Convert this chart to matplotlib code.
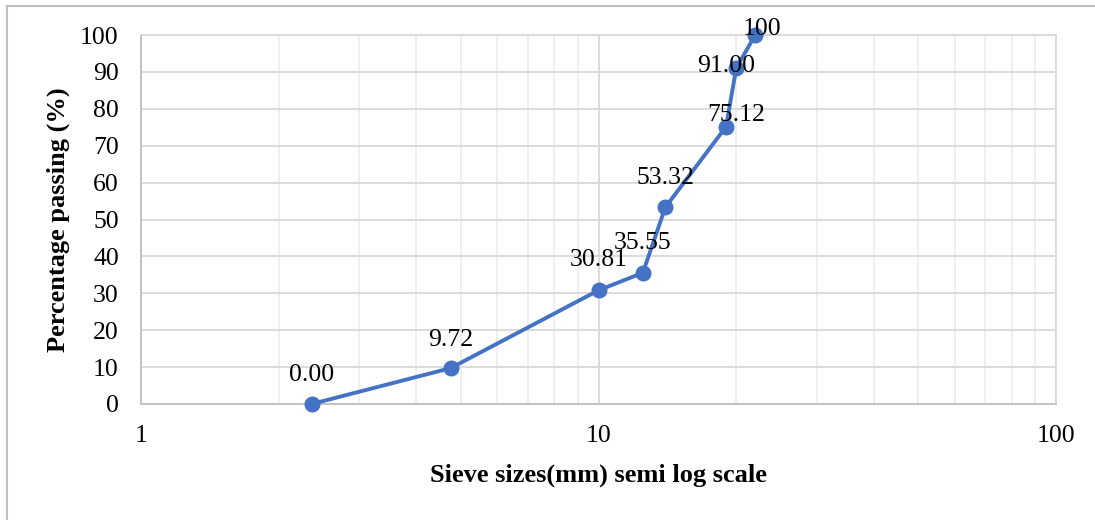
import matplotlib
matplotlib.use("Agg")
import matplotlib.pyplot as plt
from matplotlib.ticker import FixedLocator, LogLocator, NullFormatter
from matplotlib.patches import Rectangle

# Data
sieve_mm = [2.36, 4.75, 10, 12.5, 14, 19, 20, 22]
passing = [0.00, 9.72, 30.81, 35.55, 53.32, 75.12, 91.00, 100]
value_labels = ["0.00", "9.72", "30.81", "35.55", "53.32", "75.12", "91.00", "100"]
x_ticks = [1, 10, 100]
x_tick_labels = ["1", "10", "100"]
y_ticks = [0, 10, 20, 30, 40, 50, 60, 70, 80, 90, 100]

# label offsets in pixels (style)
label_offsets = [(0, 23), (0, 22), (0, 24), (0, 24), (0, 23), (10, 6), (-10, -4), (7, 0)]

plt.rcParams['font.family'] = ['Liberation Serif', 'DejaVu Serif']

fig = plt.figure(figsize=(10.95, 5.2), dpi=100)
ax = fig.add_axes([141/1095, 1-404/520, (1056-141)/1095, (404-35)/520])

blue = '#4472C4'
ax.plot(sieve_mm, passing, color=blue, lw=2.8, marker='o', markersize=10.5,
        markeredgecolor=blue, markerfacecolor=blue, zorder=3, clip_on=False)

for x, y, lab, (dx, dy) in zip(sieve_mm, passing, value_labels, label_offsets):
    ax.annotate(lab, (x, y), xytext=(dx, dy), textcoords='offset pixels',
                ha='center', va='baseline', fontsize=18.5, color='black', zorder=4,
                annotation_clip=False)

ax.set_xscale('log')
ax.set_xlim(1, 100)
ax.set_ylim(0, 100)
ax.xaxis.set_major_locator(FixedLocator(x_ticks))
ax.set_xticklabels(x_tick_labels)
ax.xaxis.set_minor_locator(LogLocator(base=10, subs=range(2, 10)))
ax.xaxis.set_minor_formatter(NullFormatter())
ax.set_yticks(y_ticks)

ax.grid(True, which='major', color='#d9d9d9', lw=1.3)
ax.grid(True, which='minor', axis='x', color='#ececec', lw=1.2)
ax.set_axisbelow(True)

ax.tick_params(axis='both', which='both', length=0, labelsize=18.5, colors='black')
ax.tick_params(axis='y', pad=16)
ax.tick_params(axis='x', pad=15)

for s in ['top', 'right']:
    ax.spines[s].set_color('#d9d9d9')
    ax.spines[s].set_linewidth(1.3)
for s in ['left', 'bottom']:
    ax.spines[s].set_color('#bfbfbf')
    ax.spines[s].set_linewidth(1.3)

ax.set_xlabel('Sieve sizes(mm) semi log scale', fontsize=19, fontweight='bold', labelpad=12)
ax.set_ylabel('Percentage passing (%)', fontsize=19, fontweight='bold', labelpad=7)

# outer chart border
fig.patches.append(Rectangle((7/1095, -0.1), 1.2, 1 - 6/520 + 0.1, transform=fig.transFigure,
                             fill=False, edgecolor='#bfbfbf', lw=1.5))

fig.savefig('out.png', dpi=100)
